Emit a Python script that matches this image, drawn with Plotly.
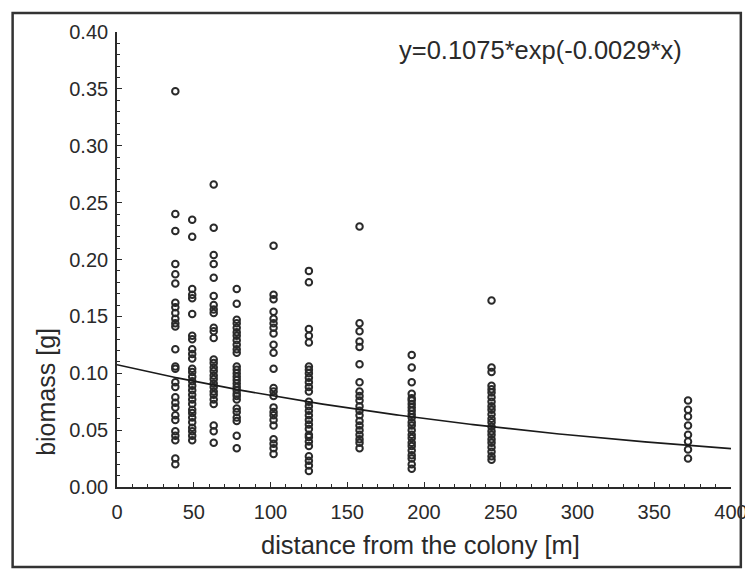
"""Biomass vs distance from the colony, with exponential fit."""

import numpy as np
import plotly.graph_objects as go

# distances of the sampling transects [m]
distances = [38, 49, 63, 78, 102, 125, 158, 192, 244, 372]

# biomass [g] read per distance
biomass_38 = [0.348, 0.240, 0.225, 0.196, 0.187, 0.179, 0.162, 0.158, 0.153, 0.148, 0.144, 0.141, 0.121, 0.106,
              0.104, 0.092, 0.088, 0.079, 0.074, 0.070, 0.063, 0.059, 0.049, 0.045, 0.041, 0.025, 0.020]
biomass_49 = [0.235, 0.220, 0.174, 0.169, 0.166, 0.152, 0.133, 0.130, 0.121, 0.117, 0.113, 0.104, 0.101, 0.097,
              0.093, 0.089, 0.085, 0.081, 0.077, 0.073, 0.068, 0.065, 0.061, 0.057, 0.052, 0.049, 0.045, 0.041]
biomass_63 = [0.266, 0.228, 0.204, 0.196, 0.184, 0.168, 0.160, 0.156, 0.153, 0.140, 0.137, 0.131, 0.112, 0.109,
              0.105, 0.102, 0.098, 0.095, 0.091, 0.088, 0.084, 0.081, 0.077, 0.073, 0.054, 0.049, 0.039]
biomass_78 = [0.174, 0.161, 0.147, 0.144, 0.140, 0.136, 0.133, 0.129, 0.125, 0.121, 0.118, 0.106, 0.103, 0.100,
              0.097, 0.094, 0.091, 0.088, 0.085, 0.082, 0.080, 0.077, 0.069, 0.066, 0.061, 0.058, 0.045, 0.034]
biomass_102 = [0.212, 0.169, 0.165, 0.154, 0.148, 0.144, 0.140, 0.135, 0.125, 0.118, 0.104, 0.087, 0.084, 0.080,
               0.070, 0.066, 0.063, 0.059, 0.054, 0.042, 0.038, 0.034, 0.029]
biomass_125 = [0.190, 0.180, 0.139, 0.133, 0.127, 0.106, 0.103, 0.100, 0.096, 0.092, 0.088, 0.084, 0.075, 0.071,
               0.067, 0.063, 0.059, 0.055, 0.051, 0.046, 0.044, 0.040, 0.036, 0.027, 0.023, 0.019, 0.014]
biomass_158 = [0.229, 0.144, 0.137, 0.128, 0.123, 0.108, 0.092, 0.084, 0.080, 0.076, 0.071, 0.067, 0.063, 0.058,
               0.054, 0.050, 0.046, 0.042, 0.039, 0.034]
biomass_192 = [0.116, 0.105, 0.092, 0.082, 0.078, 0.076, 0.073, 0.070, 0.067, 0.064, 0.061, 0.057, 0.054, 0.050,
               0.046, 0.043, 0.039, 0.036, 0.032, 0.028, 0.025, 0.020, 0.016]
biomass_244 = [0.164, 0.105, 0.101, 0.089, 0.086, 0.083, 0.079, 0.075, 0.071, 0.068, 0.064, 0.060, 0.057, 0.053,
               0.049, 0.046, 0.042, 0.039, 0.035, 0.031, 0.027, 0.024]
biomass_372 = [0.076, 0.068, 0.062, 0.054, 0.046, 0.040, 0.033, 0.025]

# fitted model y = a*exp(b*x)
fit_a = 0.1075
fit_b = -0.0029
fit_label = "y=0.1075*exp(-0.0029*x)"

columns = [biomass_38, biomass_49, biomass_63, biomass_78, biomass_102,
           biomass_125, biomass_158, biomass_192, biomass_244, biomass_372]
x_pts, y_pts = [], []
for dist, vals in zip(distances, columns):
    x_pts += [dist] * len(vals)
    y_pts += vals

x_fit = np.linspace(0, 400, 201)
y_fit = fit_a * np.exp(fit_b * x_fit)

FONT = "Liberation Sans, Arial, sans-serif"
INK = "#2a2a2a"

fig = go.Figure()
fig.add_trace(
    go.Scatter(x=x_pts, y=y_pts, mode="markers",
               marker=dict(symbol="circle-open", size=6.5, color=INK, line=dict(width=2, color=INK)))
)
fig.add_trace(go.Scatter(x=x_fit, y=y_fit, mode="lines", line=dict(color="#1a1a1a", width=1.6)))

axis_common = dict(
    showline=True, linecolor=INK, linewidth=1.6, showgrid=False, zeroline=False, automargin=False,
    ticks="inside", ticklen=5, tickwidth=1.3, tickcolor=INK, ticklabeloverflow="allow",
    tickfont=dict(family=FONT, size=20, color=INK),
)
fig.update_xaxes(range=[0, 400], dtick=50, tick0=0, ticklabelstandoff=6,
                 minor=dict(dtick=10, ticks="inside", ticklen=3, tickcolor=INK), **axis_common)
fig.update_yaxes(range=[0, 0.40], dtick=0.05, tick0=0, tickformat=".2f", ticklabelstandoff=3,
                 minor=dict(dtick=0.01, ticks="inside", ticklen=3, tickcolor=INK), **axis_common)

fig.update_layout(
    width=745, height=570,
    margin=dict(l=117, r=14, t=32, b=83, autoexpand=False),
    paper_bgcolor="white", plot_bgcolor="white",
    showlegend=False,
    annotations=[
        dict(text=fit_label, x=369.5, y=0.384, xref="x", yref="y", xanchor="right", yanchor="middle",
             showarrow=False, font=dict(family=FONT, size=25.5, color=INK)),
        dict(text="distance from the colony [m]", x=0.495, y=-0.127, xref="paper", yref="paper",
             xanchor="center", yanchor="middle", showarrow=False, font=dict(family=FONT, size=25.5, color=INK)),
        dict(text="biomass [g]", x=-0.115, y=0.21, xref="paper", yref="paper", textangle=-90,
             xanchor="center", yanchor="middle", showarrow=False, font=dict(family=FONT, size=25, color=INK)),
    ],
    shapes=[
        dict(type="rect", xref="paper", yref="paper", x0=-0.17, x1=1.016, y0=-0.176, y1=1.042,
             line=dict(color="#333333", width=2.5)),
    ],
)

fig.write_html("out.html", config={"displayModeBar": False},
               post_script="document.body.style.margin='0';")
